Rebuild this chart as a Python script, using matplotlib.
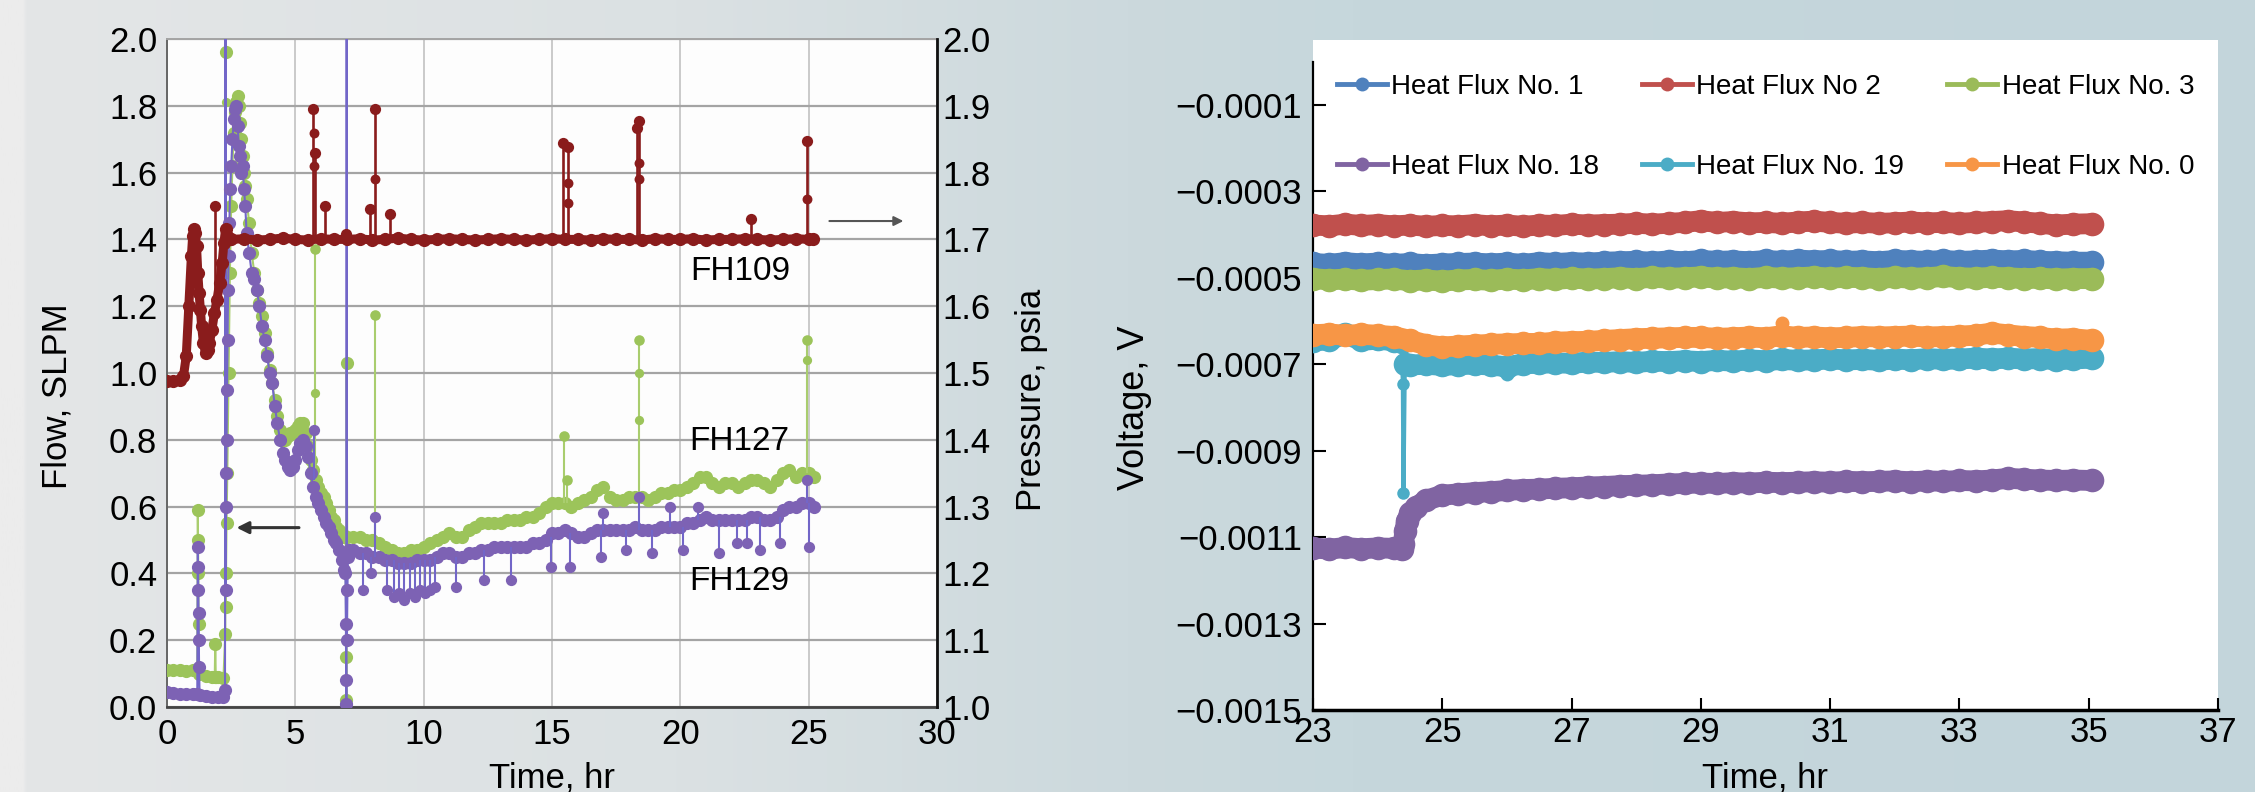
import numpy as np
import matplotlib
matplotlib.use('Agg')
import matplotlib.pyplot as plt
from matplotlib.lines import Line2D
import matplotlib.colors as mcolors

plt.rcParams['font.family'] = ['Liberation Sans', 'DejaVu Sans']

# ======================= LEFT PANEL DATA =======================
t_late = [7.5, 7.75, 8.0, 8.25, 8.5, 8.75, 9.0, 9.25, 9.5, 9.75,
          10.0, 10.25, 10.5, 10.75, 11.0, 11.25, 11.5, 11.75, 12.0, 12.25,
          12.5, 12.75, 13.0, 13.25, 13.5, 13.75, 14.0, 14.25, 14.5, 14.75,
          15.0, 15.25, 15.5, 15.75, 16.0, 16.25, 16.5, 16.75, 17.0, 17.25,
          17.5, 17.75, 18.0, 18.25, 18.5, 18.75, 19.0, 19.25, 19.5, 19.75,
          20.0, 20.25, 20.5, 20.75, 21.0, 21.25, 21.5, 21.75, 22.0, 22.25,
          22.5, 22.75, 23.0, 23.25, 23.5, 23.75, 24.0, 24.25, 24.5, 24.75,
          25.0, 25.2]

# FH129 (flow, SLPM)
t129_early = [0.0, 0.25, 0.5, 0.75, 1.0, 1.18, 1.2, 1.21, 1.22, 1.23, 1.24, 1.25, 1.27,
              1.5, 1.75, 2.0, 2.2, 2.26, 2.28, 2.29, 2.3,
              2.31, 2.32, 2.34, 2.36, 2.38, 2.4, 2.43, 2.46, 2.5, 2.55, 2.6, 2.65,
              2.7, 2.75, 2.8, 2.85, 2.9, 2.95, 3.0, 3.05, 3.1, 3.2,
              3.3, 3.4, 3.5, 3.6, 3.7, 3.8, 3.9, 4.0, 4.1, 4.2,
              4.3, 4.4, 4.5, 4.6, 4.7, 4.8, 4.9, 5.0, 5.1, 5.2,
              5.3, 5.4, 5.5, 5.6, 5.7, 5.8, 5.9, 6.0, 6.1, 6.2,
              6.3, 6.4, 6.5, 6.6, 6.7, 6.8, 6.9, 6.95, 6.97, 6.98, 6.99, 7.0,
              7.01, 7.03, 7.05, 7.1, 7.25]
f129_early = [0.045, 0.042, 0.040, 0.040, 0.038, 0.040, 0.48, 0.42, 0.35, 0.28, 0.20, 0.12, 0.035,
              0.032, 0.030, 0.030, 0.030, 0.05, 2.05, 0.35, 0.60,
              0.70, 0.80, 0.95, 1.10, 1.25, 1.35, 1.45, 1.55, 1.62, 1.70, 1.76, 1.79,
              1.80, 1.74, 1.68, 1.65, 1.60, 1.62, 1.55, 1.50, 1.42, 1.36,
              1.30, 1.28, 1.25, 1.20, 1.14, 1.10, 1.05, 1.00, 0.97, 0.90,
              0.85, 0.80, 0.76, 0.74, 0.72, 0.71, 0.72, 0.74, 0.77, 0.79,
              0.80, 0.78, 0.75, 0.70, 0.66, 0.63, 0.61, 0.59, 0.57, 0.55,
              0.54, 0.52, 0.50, 0.49, 0.47, 0.44, 0.41, 0.40, 0.25, 0.08, 0.01, 2.05,
              0.20, 0.35, 0.45, 0.47, 0.47]
f129_late = [0.46, 0.46, 0.45, 0.45, 0.44, 0.44, 0.43, 0.43, 0.43, 0.44,
             0.44, 0.44, 0.45, 0.46, 0.46, 0.45, 0.45, 0.46, 0.46, 0.47,
             0.47, 0.48, 0.48, 0.48, 0.48, 0.48, 0.48, 0.49, 0.49, 0.50,
             0.52, 0.52, 0.53, 0.52, 0.51, 0.51, 0.52, 0.53, 0.53, 0.53,
             0.53, 0.53, 0.53, 0.54, 0.53, 0.53, 0.53, 0.54, 0.54, 0.54,
             0.54, 0.55, 0.55, 0.56, 0.57, 0.56, 0.56, 0.56, 0.56, 0.56,
             0.56, 0.57, 0.57, 0.56, 0.56, 0.57, 0.59, 0.60, 0.60, 0.61,
             0.61, 0.60]
# FH129 spikes (time, from, to)
s129_t = [5.72, 8.10, 17.0, 18.38, 19.6, 20.7, 24.92,
          7.65, 7.95, 8.56, 8.85, 9.05, 9.25, 9.45, 9.65, 9.85, 10.05, 10.25, 10.45,
          11.25, 12.35, 13.4, 14.95, 15.7, 16.9, 17.9, 18.9, 20.1, 21.5, 22.2, 22.6,
          23.1, 23.9, 25.0]
s129_lo = [0.68, 0.45, 0.53, 0.53, 0.54, 0.56, 0.61,
           0.46, 0.45, 0.44, 0.44, 0.43, 0.43, 0.43, 0.43, 0.44, 0.44, 0.44, 0.45,
           0.45, 0.47, 0.48, 0.51, 0.52, 0.53, 0.53, 0.53, 0.54, 0.56, 0.56, 0.56,
           0.57, 0.57, 0.61]
s129_hi = [0.83, 0.57, 0.58, 0.63, 0.60, 0.60, 0.68,
           0.35, 0.40, 0.35, 0.33, 0.34, 0.32, 0.34, 0.33, 0.35, 0.34, 0.35, 0.36,
           0.36, 0.38, 0.38, 0.42, 0.42, 0.45, 0.47, 0.46, 0.47, 0.46, 0.49, 0.49,
           0.47, 0.49, 0.48]

# FH127 (flow, SLPM)
t127_early = [0.0, 0.25, 0.5, 0.75, 1.0, 1.18, 1.2, 1.21, 1.22, 1.23, 1.25,
              1.5, 1.75, 1.86, 1.88, 1.90, 2.0, 2.2, 2.27, 2.28, 2.29, 2.3,
              2.32, 2.35, 2.4, 2.45, 2.5, 2.55, 2.6, 2.65, 2.7, 2.75,
              2.8, 2.85, 2.9, 2.95, 3.0, 3.05, 3.1, 3.2, 3.3, 3.4,
              3.5, 3.6, 3.7, 3.8, 3.9, 4.0, 4.1, 4.2, 4.3, 4.4,
              4.5, 4.6, 4.7, 4.8, 4.9, 5.0, 5.1, 5.2, 5.3, 5.4,
              5.5, 5.6, 5.7, 5.8, 5.9, 6.0, 6.1, 6.2, 6.3, 6.4,
              6.5, 6.6, 6.7, 6.8, 6.9, 6.96, 6.98, 6.99, 7.0, 7.02, 7.25]
f127_early = [0.110, 0.112, 0.110, 0.108, 0.110, 0.110, 0.59, 0.50, 0.40, 0.25, 0.10,
              0.092, 0.090, 0.090, 0.19, 0.090, 0.090, 0.088, 0.22, 1.96, 0.30, 0.40,
              0.55, 0.70, 1.00, 1.30, 1.50, 1.62, 1.72, 1.78, 1.81, 1.83,
              1.80, 1.75, 1.70, 1.65, 1.60, 1.56, 1.52, 1.45, 1.36, 1.30,
              1.25, 1.21, 1.17, 1.12, 1.06, 1.01, 0.97, 0.92, 0.87, 0.83,
              0.80, 0.80, 0.81, 0.82, 0.82, 0.83, 0.84, 0.85, 0.85, 0.82,
              0.78, 0.74, 0.71, 0.68, 0.66, 0.64, 0.63, 0.61, 0.59, 0.57,
              0.56, 0.54, 0.53, 0.52, 0.51, 0.51, 0.15, 0.02, 1.03, 0.51, 0.51]
f127_late = [0.51, 0.50, 0.50, 0.49, 0.48, 0.47, 0.46, 0.46, 0.47, 0.47,
             0.48, 0.49, 0.50, 0.51, 0.52, 0.51, 0.51, 0.53, 0.54, 0.55,
             0.55, 0.55, 0.55, 0.56, 0.56, 0.56, 0.57, 0.57, 0.58, 0.60,
             0.61, 0.61, 0.61, 0.60, 0.61, 0.62, 0.63, 0.65, 0.66, 0.63,
             0.62, 0.62, 0.63, 0.63, 0.63, 0.62, 0.63, 0.64, 0.64, 0.65,
             0.65, 0.66, 0.67, 0.69, 0.69, 0.67, 0.66, 0.67, 0.67, 0.66,
             0.67, 0.68, 0.68, 0.67, 0.66, 0.68, 0.70, 0.71, 0.69, 0.70,
             0.70, 0.69]
s127_t = [5.75, 8.10, 15.45, 15.6, 18.38, 24.92]
s127_lo = [0.71, 0.50, 0.61, 0.61, 0.63, 0.70]
s127_hi = [1.37, 1.175, 0.81, 0.68, 1.10, 1.10]
m127_t = [5.75, 18.38, 18.38, 24.92, 2.28]
m127_f = [0.94, 1.00, 0.86, 1.04, 1.81]

# FH109 (pressure, psia)
t109_early = [0.0, 0.25, 0.5, 0.64, 0.75, 0.85, 0.95, 1.0, 1.05, 1.1, 1.15, 1.2, 1.25, 1.3,
              1.35, 1.42, 1.5, 1.58, 1.65, 1.75, 1.85, 1.95, 2.05, 2.15, 2.22, 2.28, 2.35, 2.45]
p109_early = [1.4875, 1.4875, 1.49, 1.495, 1.525, 1.60, 1.675, 1.705, 1.715, 1.71, 1.69, 1.65,
              1.62, 1.595, 1.57, 1.545, 1.53, 1.535, 1.545, 1.565, 1.59, 1.61, 1.635, 1.665,
              1.695, 1.715, 1.705, 1.70]
t109_late = [2.5, 3.0, 3.5, 4.0, 4.5, 5.0, 5.5, 6.0, 6.5, 7.0, 7.5, 8.0, 8.5, 9.0, 9.5,
             10.0, 10.5, 11.0, 11.5, 12.0, 12.5, 13.0, 13.5, 14.0, 14.5, 15.0, 15.5, 16.0,
             16.5, 17.0, 17.5, 18.0, 18.5, 19.0, 19.5, 20.0, 20.5, 21.0, 21.5, 22.0, 22.5,
             23.0, 23.5, 24.0, 24.5, 25.0, 25.15]
p109_late = [1.700, 1.701, 1.699, 1.700, 1.702, 1.700, 1.699, 1.701, 1.700, 1.700,
             1.701, 1.699, 1.700, 1.702, 1.700, 1.699, 1.700, 1.701, 1.700, 1.699,
             1.700, 1.701, 1.700, 1.699, 1.700, 1.701, 1.700, 1.700, 1.699, 1.701,
             1.700, 1.700, 1.699, 1.701, 1.700, 1.700, 1.701, 1.699, 1.700, 1.700,
             1.701, 1.700, 1.699, 1.700, 1.701, 1.700, 1.700]
s109_t = [1.88, 5.70, 5.76, 6.17, 6.98, 7.90, 8.10, 8.68, 15.43, 15.63, 18.30, 18.38, 22.74, 24.92]
s109_lo = [1.595, 1.70, 1.70, 1.70, 1.70, 1.70, 1.70, 1.70, 1.70, 1.70, 1.70, 1.70, 1.70, 1.70]
s109_hi = [1.75, 1.895, 1.83, 1.75, 1.7075, 1.745, 1.895, 1.7375, 1.844, 1.838, 1.8675,
           1.8775, 1.73, 1.8475]
m109_t = [5.72, 5.72, 8.10, 15.63, 15.63, 18.38, 18.38, 24.92]
m109_p = [1.86, 1.81, 1.79, 1.785, 1.755, 1.815, 1.79, 1.76]

flow_ticks = [0.0, 0.2, 0.4, 0.6, 0.8, 1.0, 1.2, 1.4, 1.6, 1.8, 2.0]
press_ticks = [1.0, 1.1, 1.2, 1.3, 1.4, 1.5, 1.6, 1.7, 1.8, 1.9, 2.0]
time_ticks_left = [0, 5, 10, 15, 20, 25, 30]

# ======================= RIGHT PANEL DATA (microvolts) =======================
T_hf = [23.0, 23.25, 23.5, 23.75, 24.0, 24.25, 24.5, 24.75, 25.0, 25.25,
        25.5, 25.75, 26.0, 26.25, 26.5, 26.75, 27.0, 27.25, 27.5, 27.75,
        28.0, 28.25, 28.5, 28.75, 29.0, 29.25, 29.5, 29.75, 30.0, 30.25,
        30.5, 30.75, 31.0, 31.25, 31.5, 31.75, 32.0, 32.25, 32.5, 32.75,
        33.0, 33.25, 33.5, 33.75, 34.0, 34.25, 34.5, 34.75, 35.05]
hf1_uV = [-467, -469, -465, -468, -466, -469, -467, -470, -468, -467,
          -466, -468, -466, -469, -465, -467, -465, -466, -464, -463,
          -462, -464, -461, -463, -460, -462, -461, -463, -460, -462,
          -459, -461, -460, -462, -461, -463, -460, -461, -462, -460,
          -462, -461, -459, -461, -460, -462, -463, -464, -464]
hf2_uV = [-378, -380, -376, -379, -377, -380, -378, -381, -379, -380,
          -377, -380, -378, -381, -378, -379, -376, -378, -377, -376,
          -374, -376, -374, -372, -368, -372, -370, -373, -372, -374,
          -371, -369, -372, -374, -372, -374, -373, -371, -373, -372,
          -374, -372, -370, -368, -371, -374, -378, -376, -375]
hf3_uV = [-502, -505, -503, -506, -504, -503, -507, -505, -508, -505,
          -504, -506, -503, -505, -502, -504, -501, -503, -502, -500,
          -502, -499, -501, -500, -498, -501, -500, -502, -499, -501,
          -500, -498, -501, -499, -500, -502, -499, -501, -500, -497,
          -500, -501, -499, -500, -502, -501, -503, -502, -502]
hf0_uV = [-632, -630, -633, -631, -633, -636, -645, -655, -660, -658,
          -656, -654, -653, -652, -652, -649, -648, -647, -645, -643,
          -641, -640, -639, -638, -638, -640, -639, -637, -639, -634,
          -638, -637, -639, -638, -636, -637, -636, -635, -637, -636,
          -635, -633, -628, -632, -636, -638, -642, -641, -645]
T_hf19_pre = [23.0, 23.25, 23.5, 23.75, 24.0, 24.25, 24.37]
hf19_pre_uV = [-646, -644, -630, -645, -642, -646, -648]
T_hf19_step = [24.37, 24.39, 24.40, 24.42]
hf19_step_uV = [-648, -745, -997, -700]
T_hf19_post = [24.42, 24.5, 24.75, 25.0, 25.25, 25.5, 25.75, 26.0, 26.25, 26.5,
               26.75, 27.0, 27.25, 27.5, 27.75, 28.0, 28.25, 28.5, 28.75, 29.0,
               29.25, 29.5, 29.75, 30.0, 30.25, 30.5, 30.75, 31.0, 31.25, 31.5,
               31.75, 32.0, 32.25, 32.5, 32.75, 33.0, 33.25, 33.5, 33.75, 34.0,
               34.25, 34.5, 34.75, 35.05]
hf19_post_uV = [-700, -702, -700, -703, -701, -700, -702, -706, -699, -698,
                -697, -698, -695, -696, -694, -696, -693, -694, -692, -694,
                -691, -693, -690, -692, -689, -691, -690, -688, -690, -689,
                -691, -688, -690, -687, -689, -688, -686, -688, -686, -688,
                -687, -690, -688, -686]
T_hf18 = [23.0, 23.25, 23.5, 23.75, 24.0, 24.25, 24.38, 24.40, 24.42, 24.45,
          24.5, 24.6, 24.75, 25.0, 25.25, 25.5, 25.75, 26.0, 26.25, 26.5,
          26.75, 27.0, 27.25, 27.5, 27.75, 28.0, 28.25, 28.5, 28.75, 29.0,
          29.25, 29.5, 29.75, 30.0, 30.25, 30.5, 30.75, 31.0, 31.25, 31.5,
          31.75, 32.0, 32.25, 32.5, 32.75, 33.0, 33.25, 33.5, 33.75, 34.0,
          34.25, 34.5, 34.75, 35.05]
hf18_uV = [-1125, -1128, -1124, -1127, -1125, -1126, -1127, -1115, -1085, -1062,
           -1045, -1030, -1015, -1003, -1000, -997, -995, -992, -990, -989,
           -987, -986, -984, -983, -981, -980, -979, -977, -976, -975,
           -976, -974, -975, -973, -974, -973, -972, -973, -971, -972,
           -971, -970, -972, -970, -971, -969, -970, -968, -964, -966,
           -968, -969, -968, -969]
# isolated excursions (time, from, to) in microvolts
hf0_spk = (30.25, -634, -604)
hf19_spk = (26.0, -706, -723)

volt_ticks_uV = [-1500, -1300, -1100, -900, -700, -500, -300, -100]
time_ticks_right = [23, 25, 27, 29, 31, 33, 35, 37]

# ======================= FIGURE =======================
W, H = 2255, 792
fig = plt.figure(figsize=(W / 100, H / 100), dpi=100)

# background gradient
bg = fig.add_axes([0, 0, 1, 1], zorder=-10)
bg.set_axis_off()
xs = np.linspace(0, 1, 1200)
stops = [0.0, 0.0105, 0.0110, 0.30, 0.50, 0.60, 1.0]
cols = ['#ececec', '#ececec', '#e4e6e7', '#dbe1e3', '#ccd9dd', '#c6d7dc', '#c3d5db']
rgb = np.array([mcolors.to_rgb(c) for c in cols])
img = np.stack([np.interp(xs, stops, rgb[:, i]) for i in range(3)], axis=-1)[None, :, :]
bg.imshow(img, aspect='auto', extent=[0, 1, 0, 1])
bg.set_xlim(0, 1); bg.set_ylim(0, 1)

def fx(px):
    return px / W

def fy(py):
    return 1 - py / H

# ---------- left panel ----------
L_l, L_r, L_t, L_b = 167, 937, 39, 707
ax1 = fig.add_axes([fx(L_l), fy(L_b), fx(L_r - L_l), (L_b - L_t) / H])
ax1.set_facecolor('#fdfdfd')
ax1.set_xlim(0, 30)
ax1.set_ylim(0, 2.0)
ax1.set_axisbelow(True)
ax1.yaxis.grid(True, color='#a4a4a4', lw=1.6)
ax1.xaxis.grid(True, color='#c6c6c6', lw=1.3)
ax1.set_xticks(time_ticks_left)
ax1.set_yticks(flow_ticks)
ax1.set_yticklabels(['%.1f' % v for v in flow_ticks])
ax1.tick_params(axis='both', length=0, labelsize=25)
ax1.tick_params(axis='y', pad=7)
ax1.tick_params(axis='x', pad=8)
ax1.spines['left'].set_color('#666666')
ax1.spines['left'].set_linewidth(1.4)
ax1.spines['bottom'].set_color('#444444')
ax1.spines['bottom'].set_linewidth(2.0)
ax1.spines['top'].set_color('#a4a4a4')
ax1.spines['top'].set_linewidth(1.4)
ax1.spines['right'].set_visible(False)

c_green_m, c_green_l = '#9cc45a', '#a9cd6e'
c_purp_m, c_purp_l = '#7d62b4', '#7266c8'
c_red = '#8a1c1c'
ms_left = 9.5

t127 = t127_early + t_late
f127 = f127_early + f127_late
t129 = t129_early + t_late
f129 = f129_early + f129_late
assert len(t127) == len(f127) and len(t129) == len(f129)

ax1.plot(t127, f127, color=c_green_l, lw=1.5, marker='o', ms=ms_left,
         mfc=c_green_m, mec='none', zorder=3)
ax1.vlines(s127_t, s127_lo, s127_hi, color=c_green_l, lw=1.5, zorder=3)
ax1.plot(s127_t, s127_hi, 'o', ms=ms_left * 0.8, mfc=c_green_m, mec='none', zorder=3)
ax1.plot(m127_t, m127_f, 'o', ms=ms_left * 0.7, mfc=c_green_m, mec='none', zorder=3)

ax1.plot(t129, f129, color=c_purp_l, lw=1.5, marker='o', ms=ms_left,
         mfc=c_purp_m, mec='none', zorder=4)
ax1.vlines(s129_t, s129_lo, s129_hi, color=c_purp_l, lw=1.5, zorder=4)
ax1.plot(s129_t, s129_hi, 'o', ms=ms_left * 0.85, mfc=c_purp_m, mec='none', zorder=4)

# labels and arrows
lab_font = dict(fontsize=24, family=['Liberation Sans', 'DejaVu Sans'])
ax1.text(22.33, 1.305, 'FH109', ha='center', va='center', **lab_font)
ax1.text(22.30, 0.795, 'FH127', ha='center', va='center', **lab_font)
ax1.text(22.30, 0.376, 'FH129', ha='center', va='center', **lab_font)
ax1.annotate('', xy=(2.6, 0.537), xytext=(5.25, 0.537),
             arrowprops=dict(arrowstyle='-|>', color='#333333', lw=2.2, mutation_scale=18))
ax1.annotate('', xy=(28.8, 1.455), xytext=(25.7, 1.455), annotation_clip=False,
             arrowprops=dict(arrowstyle='-|>', color='#555555', lw=1.5, mutation_scale=14))

ax2 = ax1.twinx()
ax2.set_ylim(1.0, 2.0)
ax2.set_yticks(press_ticks)
ax2.set_yticklabels(['%.1f' % v for v in press_ticks])
ax2.tick_params(axis='y', length=0, labelsize=25, pad=4)
for s in ['left', 'top', 'bottom']:
    ax2.spines[s].set_visible(False)
ax2.spines['right'].set_color('#111111')
ax2.spines['right'].set_linewidth(2.0)

t109 = t109_early + t109_late
p109 = p109_early + p109_late
ax2.plot(t109, p109, color=c_red, lw=6.5, marker='o', ms=ms_left, mfc=c_red, mec='none',
         zorder=5, solid_capstyle='round')
ax2.vlines(s109_t, s109_lo, s109_hi, color=c_red, lw=1.9, zorder=5)
ax2.plot(s109_t, s109_hi, 'o', ms=ms_left * 0.85, mfc=c_red, mec='none', zorder=5)
ax2.plot(m109_t, m109_p, 'o', ms=ms_left * 0.75, mfc=c_red, mec='none', zorder=5)

fig.text(fx(57), fy(396), 'Flow, SLPM', rotation=90, ha='center', va='center', fontsize=25)
fig.text(fx(1031), fy(400), 'Pressure, psia', rotation=90, ha='center', va='center', fontsize=25)
fig.text(fx(552), fy(788), 'Time, hr', ha='center', va='baseline', fontsize=25)

# ---------- right panel ----------
R_l, R_r, R_t, R_b = 1313, 2218, 40, 710
ax3 = fig.add_axes([fx(R_l), fy(R_b), fx(R_r - R_l), (R_b - R_t) / H])
ax3.set_facecolor('white')
ax3.set_xlim(23, 37)
ax3.set_ylim(-0.0015, 0.00005)
ax3.set_xticks(time_ticks_right)
ax3.set_yticks([v * 1e-6 for v in volt_ticks_uV])
ax3.set_yticklabels(['\u2212%.4f' % (abs(v) * 1e-6) for v in volt_ticks_uV])
ax3.tick_params(axis='both', direction='in', length=9, width=1.5, labelsize=25, colors='black')
ax3.tick_params(axis='y', pad=8)
ax3.tick_params(axis='x', pad=4)
ax3.spines['top'].set_visible(False)
ax3.spines['right'].set_visible(False)
ax3.spines['left'].set_bounds(-0.0015, 0.0)
ax3.spines['left'].set_linewidth(1.6)
ax3.spines['bottom'].set_linewidth(2.5)

c_hf1, c_hf2, c_hf3 = '#4f81bd', '#c0504d', '#9bbb59'
c_hf18, c_hf19, c_hf0 = '#8064a2', '#4bacc6', '#f79646'
band = dict(lw=15, marker='o', ms=17, mec='none', solid_capstyle='round', solid_joinstyle='round')

def uv(a):
    return np.asarray(a, dtype=float) * 1e-6

ax3.plot(T_hf, uv(hf2_uV), color=c_hf2, mfc=c_hf2, zorder=3, **band)
ax3.plot(T_hf, uv(hf1_uV), color=c_hf1, mfc=c_hf1, zorder=3, **band)
ax3.plot(T_hf, uv(hf3_uV), color=c_hf3, mfc=c_hf3, zorder=4, **band)
ax3.plot(T_hf19_pre, uv(hf19_pre_uV), color=c_hf19, mfc=c_hf19, zorder=3, **band)
ax3.plot(T_hf19_step, uv(hf19_step_uV), color=c_hf19, lw=3, marker='o', ms=9,
         mfc=c_hf19, mec='none', zorder=3)
ax3.plot(T_hf19_post, uv(hf19_post_uV), color=c_hf19, mfc=c_hf19, zorder=3, **band)
ax3.vlines(hf19_spk[0], hf19_spk[1] * 1e-6, hf19_spk[2] * 1e-6, color=c_hf19, lw=3, zorder=3)
ax3.plot(hf19_spk[0], hf19_spk[2] * 1e-6, 'o', ms=10, color=c_hf19, mec='none', zorder=3)
ax3.plot(T_hf, uv(hf0_uV), color=c_hf0, mfc=c_hf0, zorder=4, **band)
ax3.vlines(hf0_spk[0], hf0_spk[1] * 1e-6, hf0_spk[2] * 1e-6, color=c_hf0, lw=3, zorder=4)
ax3.plot(hf0_spk[0], hf0_spk[2] * 1e-6, 'o', ms=10, color=c_hf0, mec='none', zorder=4)
ax3.plot(T_hf18, uv(hf18_uV), color=c_hf18, mfc=c_hf18, zorder=3, **band)

leg_items = [('Heat Flux No. 1', c_hf1), ('Heat Flux No. 18', c_hf18),
             ('Heat Flux No 2', c_hf2), ('Heat Flux No. 19', c_hf19),
             ('Heat Flux No. 3', c_hf3), ('Heat Flux No. 0', c_hf0)]
handles = [Line2D([0], [0], color=c, lw=3.5, marker='o', ms=10, mec='none') for _, c in leg_items]
ax3.legend(handles, [n for n, _ in leg_items], ncol=3, loc='upper left',
           bbox_to_anchor=(0.0265, 0.950), frameon=False, fontsize=20,
           handlelength=1.8, handletextpad=0.15, columnspacing=1.55,
           labelspacing=1.95, borderpad=0, borderaxespad=0)

fig.text(fx(1135), fy(408), 'Voltage, V', rotation=90, ha='center', va='center', fontsize=26)
fig.text(fx(1765), fy(788), 'Time, hr', ha='center', va='baseline', fontsize=25)

fig.savefig('out.png', dpi=100)
